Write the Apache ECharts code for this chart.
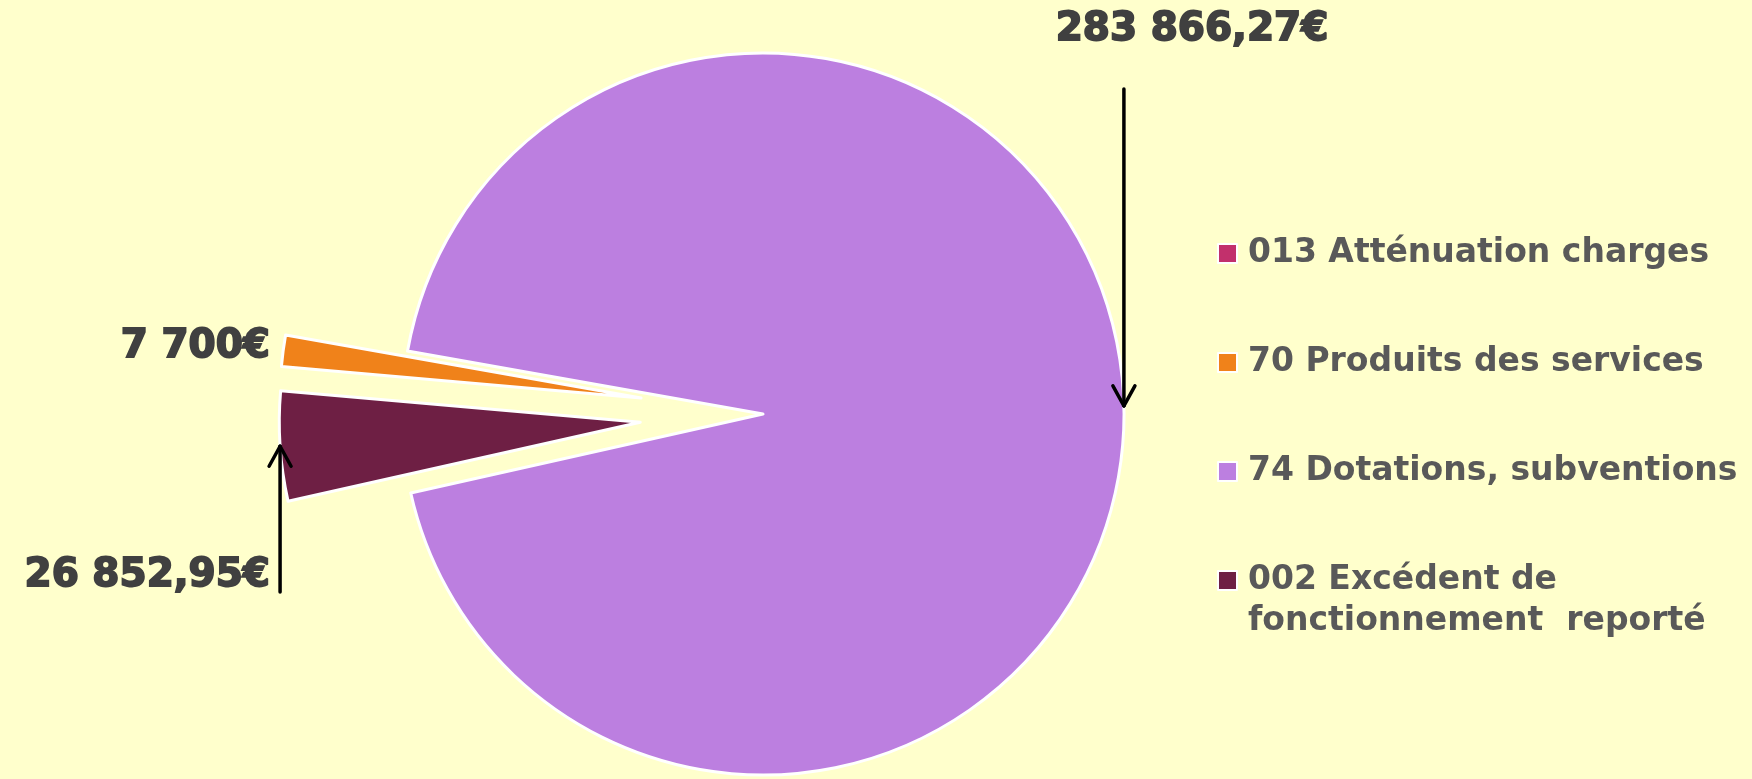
<!DOCTYPE html>
<html lang="fr">
<head>
    <meta charset="UTF-8">
    <title>Recettes de fonctionnement</title>
    <script src="https://cdn.jsdelivr.net/npm/echarts@6/dist/echarts.min.js"></script>
    <style>
        html, body { margin: 0; padding: 0; background: #ffffcc; }
        #chart { width: 1752px; height: 779px; }
    </style>
</head>
<body>
<div id="chart"></div>
<script>
    // catégories du graphique
    var categories = ['013 Atténuation charges', '70 Produits des services', '74 Dotations, subventions', '002 Excédent de\nfonctionnement  reporté'];
    // parts des secteurs (%)
    var shares = [0, 1.4, 93.7, 4.9];
    // montants écrits à côté du camembert
    var amountLabels = ['', '7 700€', '283 866,27€', '26 852,95€'];
    var colors = ['#c2306c', '#f0821a', '#bc7fe0', '#6e1f44'];
    var exploded = [false, true, false, true];

    // placement des montants (x, y, alignement) et queue des flèches
    var labelPos = {
        1: {x: 270, y: 347, align: 'right'},
        2: {x: 1192, y: 30, align: 'center'},
        3: {x: 270, y: 576, align: 'right'}
    };
    var arrowTail = {2: 89, 3: 592};

    var offset = 123;
    var chart = echarts.init(document.getElementById('chart'));

    chart.setOption({
        backgroundColor: '#ffffcc',
        animation: false,
        legend: {
            orient: 'vertical',
            left: 1217,
            top: 192,
            padding: 0,
            itemGap: -14,
            itemWidth: 19,
            itemHeight: 19,
            icon: 'rect',
            selectedMode: false,
            itemStyle: {borderColor: '#fff', borderWidth: 2},
            // chaque libellé occupe 3 lignes pour que le carré reste sur la première ligne du dernier
            formatter: function (name) {
                return name.indexOf('\n') < 0 ? '\n' + name + '\n' : '\n' + name;
            },
            textStyle: {
                fontFamily: 'DejaVu Sans',
                fontWeight: 'bold',
                fontSize: 33,
                color: '#595959',
                lineHeight: 41,
                padding: [0, 0, 0, 6]
            },
            data: categories
        },
        series: [{
            type: 'pie',
            center: [763, 414],
            radius: 361,
            startAngle: 175,
            selectedMode: 'multiple',
            selectedOffset: offset,
            itemStyle: {borderColor: '#fff', borderWidth: 3},
            emphasis: {disabled: true},
            label: {show: false},
            labelLine: {show: false},
            data: categories.map(function (name, i) {
                return {
                    name: name,
                    value: shares[i],
                    selected: exploded[i],
                    itemStyle: shares[i] === 0 ? {color: colors[i], borderWidth: 0} : {color: colors[i]}
                };
            })
        }]
    });

    // montants + flèches : la pointe est sur l'arc, au milieu du secteur (décalé s'il est sorti)
    var pieData = chart.getModel().getSeriesByIndex(0).getData();
    var extras = [];

    Object.keys(labelPos).forEach(function (k) {
        var pos = labelPos[k];
        extras.push({
            type: 'text',
            z: 100,
            x: pos.x,
            y: pos.y,
            style: {
                text: amountLabels[+k],
                fontFamily: 'DejaVu Sans',
                fontWeight: 'bold',
                fontSize: 39,
                fill: '#404040',
                stroke: '#404040',
                lineWidth: 1.8,
                align: pos.align,
                verticalAlign: 'middle'
            }
        });
    });

    function arrowLine(x1, y1, x2, y2) {
        return {
            type: 'line',
            z: 100,
            shape: {x1: x1, y1: y1, x2: x2, y2: y2},
            style: {stroke: '#000', lineWidth: 3.5, lineCap: 'round'}
        };
    }

    Object.keys(arrowTail).forEach(function (k) {
        var i = +k;
        var l = pieData.getItemLayout(i);
        var mid = (l.startAngle + l.endAngle) / 2;
        var d = l.r + (exploded[i] ? offset : 0);
        var tx = l.cx + Math.cos(mid) * d;
        var ty = l.cy + Math.sin(mid) * d;
        var tail = arrowTail[k];
        var s = tail > ty ? 1 : -1;
        extras.push(arrowLine(tx, tail, tx, ty));
        extras.push(arrowLine(tx - 11, ty + s * 20, tx, ty));
        extras.push(arrowLine(tx + 11, ty + s * 20, tx, ty));
    });
    chart.setOption({graphic: extras});
</script>
</body>
</html>
